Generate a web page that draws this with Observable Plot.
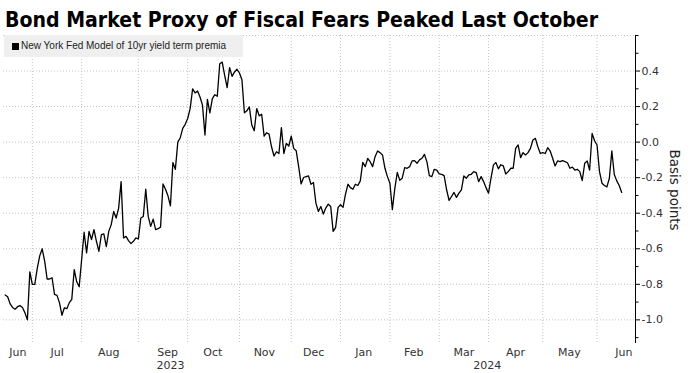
<!DOCTYPE html>
<html><head><meta charset="utf-8">
<script src="https://cdn.jsdelivr.net/npm/d3@7"></script>
<script src="https://cdn.jsdelivr.net/npm/@observablehq/plot@0.6"></script>
<style>
body{margin:0;background:#fff;}
#wrap{position:relative;width:695px;height:373px;overflow:hidden;background:#fff;}
#title{position:absolute;left:5px;top:9px;font-weight:bold;font-size:21px;line-height:22px;font-family:"DejaVu Sans",sans-serif;white-space:nowrap;transform-origin:0 0;color:#000;}
#chart{position:absolute;left:0;top:34px;}
#legend{position:absolute;left:4px;top:35px;width:239px;height:22px;background:#efefef;font-family:"Liberation Sans",Arial,sans-serif;font-size:10px;color:#222;}
#legend .sw{position:absolute;left:8px;top:8px;width:7px;height:7px;background:#000;}
#legend .tx{position:absolute;left:17px;top:5px;line-height:12px;white-space:nowrap;}
#ylab{position:absolute;left:675px;top:190px;transform:translate(-50%,-50%) rotate(90deg);font-family:"DejaVu Sans",sans-serif;font-size:13.5px;color:#222;white-space:nowrap;}
</style></head>
<body>
<div id="wrap">
  <div id="title">Bond Market Proxy of Fiscal Fears Peaked Last October</div>
  <div id="chart"></div>
  <div id="legend"><div class="sw"></div><div class="tx">New York Fed Model of 10yr yield term premia</div></div>
  <div id="ylab">Basis points</div>
</div>
<script>
// Daily values (trading-day index 0..250), mid-June 2023 to mid-June 2024
const termPremia = [
-0.86,-0.87,-0.91,-0.93,-0.94,-0.926,-0.92,-0.93,-0.96,-1.0,
-0.73,-0.80,-0.80,-0.71,-0.64,-0.60,-0.67,-0.77,-0.77,-0.763,
-0.857,-0.862,-0.903,-0.974,-0.932,-0.937,-0.903,-0.885,-0.717,-0.786,
-0.814,-0.661,-0.507,-0.623,-0.502,-0.548,-0.492,-0.558,-0.614,-0.52,
-0.516,-0.588,-0.502,-0.464,-0.39,-0.427,-0.371,-0.222,-0.539,-0.53,
-0.554,-0.571,-0.558,-0.539,-0.545,-0.427,-0.418,-0.265,-0.418,-0.474,
-0.433,-0.492,-0.487,-0.478,-0.235,-0.265,-0.302,-0.358,-0.115,-0.153,
0.0,0.025,0.077,0.10,0.133,0.189,0.30,0.277,0.288,0.254,
0.208,0.04,0.24,0.165,0.245,0.267,0.258,0.441,0.45,0.376,
0.307,0.419,0.37,0.395,0.41,0.389,0.351,0.165,0.176,0.198,
0.096,0.064,0.189,0.148,0.157,0.034,0.053,0.045,-0.026,-0.078,
-0.054,-0.064,0.082,-0.064,-0.007,-0.022,0.034,-0.035,-0.048,-0.138,
-0.235,-0.199,-0.194,-0.19,-0.237,-0.227,-0.343,-0.39,-0.362,-0.405,
-0.371,-0.349,-0.362,-0.502,-0.48,-0.367,-0.352,-0.367,-0.293,-0.237,
-0.256,-0.265,-0.237,-0.244,-0.218,-0.114,-0.138,-0.092,-0.110,-0.138,
-0.082,-0.05,-0.059,-0.072,-0.147,-0.194,-0.231,-0.38,-0.26,-0.17,
-0.215,-0.203,-0.143,-0.147,-0.138,-0.106,-0.104,-0.119,-0.1,-0.091,
-0.069,-0.11,-0.188,-0.194,-0.153,-0.157,-0.179,-0.181,-0.188,-0.268,
-0.328,-0.306,-0.283,-0.311,-0.287,-0.268,-0.19,-0.203,-0.184,-0.181,
-0.166,-0.171,-0.222,-0.194,-0.222,-0.256,-0.287,-0.203,-0.128,-0.115,
-0.15,-0.127,-0.134,-0.179,-0.166,-0.147,-0.147,-0.035,-0.016,-0.087,
-0.059,-0.072,-0.059,-0.035,0.012,0.021,-0.026,-0.064,-0.059,-0.064,
-0.031,-0.05,-0.091,-0.134,-0.106,-0.11,-0.104,-0.11,-0.116,-0.147,
-0.141,-0.157,-0.153,-0.166,-0.216,-0.119,-0.106,-0.157,0.049,0.008,
-0.016,-0.166,-0.231,-0.244,-0.252,-0.203,-0.05,-0.182,-0.218,-0.244,
-0.283
];
// First trading day of each month (index), used for vertical gridlines
const monthStarts = [11, 31, 54, 74, 95, 116, 136, 156, 176, 196, 218, 240];
// Month tick labels and their positions (trading-day index)
const monthLabels = ["Jun","Jul","Aug","Sep","Oct","Nov","Dec","Jan","Feb","Mar","Apr","May","Jun"];
const monthLabelPos = [5.1, 21.1, 42.0, 65.9, 84.2, 105.1, 125.1, 145.4, 165.7, 186.0, 206.9, 228.8, 250.9];
const yearLabels = ["2023","2024"];
const yearLabelPos = [67.0, 195.5];
const yMajor = [-1.0,-0.8,-0.6,-0.4,-0.2,0.0,0.2,0.4];
const yGrid = [-1.0,-0.8,-0.6,-0.4,-0.2,0.0,0.2,0.4,0.6];
const yMinor = [-1.1,-0.9,-0.7,-0.5,-0.3,-0.1,0.1,0.3,0.5,0.6];

const xDomain = [-0.69, 255.6];
const yDomain = [-1.133, 0.6];

const monthMap = new Map(monthLabelPos.map((p,i)=>[p, monthLabels[i]]));
const yearMap = new Map(yearLabelPos.map((p,i)=>[p, yearLabels[i]]));
const gridStyle = {stroke:"#c4c4c4", strokeOpacity:1, strokeDasharray:"1,2", strokeWidth:1};

const svg = Plot.plot({
  width: 695, height: 339,
  marginTop: 1, marginBottom: 30, marginLeft: 3, marginRight: 60,
  x: {domain: xDomain},
  y: {domain: yDomain},
  style: {fontFamily: "DejaVu Sans, sans-serif", fontSize: "11px", color: "#333", background: "transparent", overflow: "visible"},
  marks: [
    Plot.gridY(yGrid, gridStyle),
    Plot.gridX(monthStarts, gridStyle),
    Plot.lineY(termPremia, {x: (d, i) => i, y: d => d, stroke: "#000", strokeWidth: 1.3}),
    Plot.ruleX([xDomain[1]], {y1: yDomain[0], y2: yDomain[1], stroke: "#000", strokeWidth: 1}),
    Plot.axisY(yMinor, {anchor: "right", tickSize: 2.5, text: null, stroke: "#000", label: null}),
    Plot.axisY(yMajor, {anchor: "right", tickSize: 4, tickPadding: 2, stroke: "#000", fill: "#333", tickFormat: d => d.toFixed(1), label: null}),
    Plot.axisX(monthLabelPos, {tickSize: 0, tickPadding: 5, tickFormat: d => monthMap.get(d), fill: "#333", label: null}),
    Plot.axisX(yearLabelPos, {tickSize: 0, tickPadding: 18, tickFormat: d => yearMap.get(d), fill: "#333", label: null})
  ]
});
document.getElementById("chart").appendChild(svg);

// Fit the bold title to the reference width
const t = document.getElementById("title");
const w = t.getBoundingClientRect().width;
t.style.transform = `scaleX(${593 / w})`;
</script>
</body></html>
